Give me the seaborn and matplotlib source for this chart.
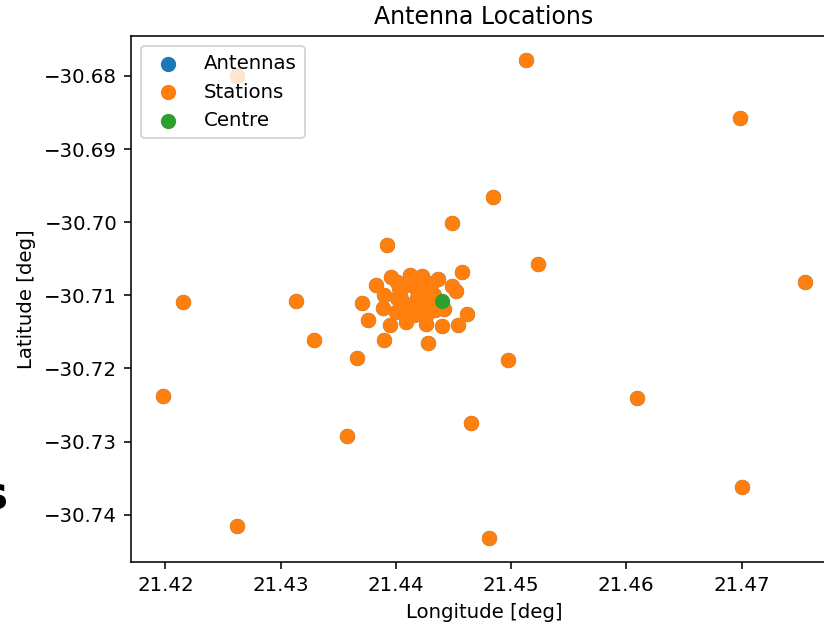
import matplotlib
matplotlib.use("Agg")
import matplotlib.pyplot as plt
import seaborn as sns

# Station positions (degrees)
station_lon = [
    21.4262, 21.4513, 21.4699, 21.4484, 21.4449, 21.4392, 21.4523, 21.4755,
    21.4215, 21.4313, 21.4329, 21.4366, 21.4497, 21.4198, 21.4609, 21.4358,
    21.4465, 21.4700, 21.4262, 21.4481,
    21.4457, 21.4396, 21.4412, 21.4423, 21.4437, 21.4383, 21.4449, 21.4452,
    21.4390, 21.4371, 21.4389, 21.4442, 21.4462, 21.4376, 21.4395, 21.4409,
    21.4426, 21.4440, 21.4454, 21.4390, 21.4428,
    21.4403, 21.4406, 21.4413, 21.4418, 21.4429, 21.4422, 21.4432, 21.4410,
    21.4400, 21.4426, 21.4404, 21.4420, 21.4433, 21.4416,
    21.4401, 21.4417, 21.4431, 21.4401, 21.4426, 21.4413, 21.4434, 21.4427,
    21.4418,
]
station_lat = [
    -30.6800, -30.6778, -30.6857, -30.6966, -30.7001, -30.7031, -30.7057, -30.7082,
    -30.7109, -30.7108, -30.7161, -30.7186, -30.7189, -30.7238, -30.7241, -30.7293,
    -30.7274, -30.7362, -30.7416, -30.7432,
    -30.7068, -30.7075, -30.7072, -30.7073, -30.7077, -30.7086, -30.7087, -30.7094,
    -30.7100, -30.7111, -30.7117, -30.7118, -30.7125, -30.7134, -30.7141, -30.7136,
    -30.7139, -30.7142, -30.7141, -30.7161, -30.7165,
    -30.7090, -30.7109, -30.7086, -30.7104, -30.7090, -30.7118, -30.7113, -30.7123,
    -30.7123, -30.7082, -30.7100, -30.7093, -30.7100, -30.7127,
    -30.7082, -30.7079, -30.7083, -30.7104, -30.7101, -30.7115, -30.7120, -30.7126,
    -30.7093,
]

# Every antenna sits at a station position
antenna_lon = list(station_lon)
antenna_lat = list(station_lat)

# Array centre
centre_lon = [21.4440]
centre_lat = [-30.7108]

DPI = 142
W, H = 825, 625
fig = plt.figure(figsize=(W / DPI, H / DPI), dpi=DPI)
ax = fig.add_axes([131 / W, 63 / H, 706 / W, 526 / H])

kw = dict(s=60, linewidth=0, ax=ax)
sns.scatterplot(x=antenna_lon, y=antenna_lat, color="C0", label="Antennas", **kw)
sns.scatterplot(x=station_lon, y=station_lat, color="C1", label="Stations", **kw)
sns.scatterplot(x=centre_lon, y=centre_lat, color="C2", label="Centre", **kw)

ax.set_title("Antenna Locations")
ax.set_xlabel("Longitude [deg]")
ax.set_ylabel("Latitude [deg]")
ax.legend(loc="upper left")

fig.text(8 / W, (H - 510) / H, "s", fontsize=24, fontweight="bold",
         ha="right", va="baseline")

fig.savefig("out.png", dpi=DPI)
